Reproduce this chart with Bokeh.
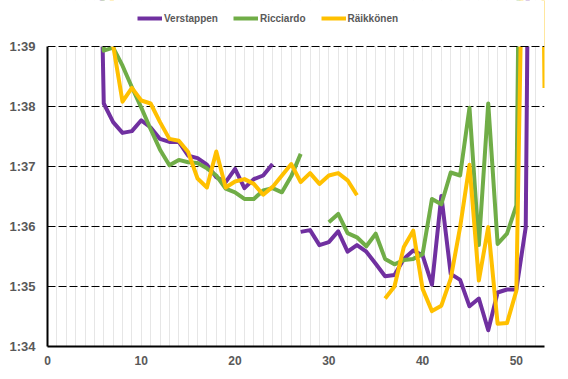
from bokeh.plotting import figure
from bokeh.models import Range1d, FixedTicker, Legend, LegendItem, BoxAnnotation, Span
from bokeh.embed import file_html
from bokeh.resources import INLINE

nan = float("nan")

laps = list(range(5, 54))

# lap times in seconds (94 = 1:34); values above 99 run off the top of the chart
verstappen = [106, 98.05, 97.74, 97.56, 97.59, 97.77, 97.65, 97.46, 97.41, 97.41,
              97.18, 97.14, 97.03, 96.82, 96.74, 96.96, 96.64, 96.79, 96.85, 97.04,
              nan, nan, 95.91, 95.94, 95.69, 95.74, 95.92, 95.58, 95.69, 95.58,
              95.38, 95.17, 95.19, 95.46, 95.60, 95.52, 95.03, 96.51, 95.21, 95.11,
              94.67, 94.80, 94.27, 94.90, 94.95, 94.95, 95.99, 114, nan]

ricciardo = [108, 98.93, 98.98, 98.68, 98.32, 97.98, 97.62, 97.28, 97.02, 97.11,
             97.07, 97.06, 96.97, 96.85, 96.63, 96.57, 96.46, 96.46, 96.60, 96.64,
             96.57, 96.84, 97.21, nan, nan, 96.07, 96.21, 95.89, 95.82, 95.67,
             95.88, 95.46, 95.37, 95.44, 95.46, 95.54, 96.46, 96.37, 96.90, 96.85,
             97.98, 95.69, 98.05, 95.71, 95.88, 96.35, 111, nan, nan]

raikkonen = [nan, 104, 99.02, 98.08, 98.31, 98.10, 98.05, 97.74, 97.46, 97.43,
             97.24, 96.80, 96.65, 97.25, 96.65, 96.75, 96.79, 96.71, 96.53, 96.66,
             96.85, 97.04, 96.74, 96.89, 96.71, 96.85, 96.89, 96.77, 96.52, nan,
             nan, 94.80, 95.00, 95.66, 95.93, 94.96, 94.59, 94.68, 95.13, 95.99,
             97.03, 95.10, 95.99, 94.38, 94.39, 94.93, 104, 112, 98.31]

names = ["Verstappen", "Ricciardo", "Räikkönen"]
colors = ["#7030A0", "#70AD47", "#FFC000"]

y_ticks = [94, 95, 96, 97, 98, 99]
y_labels = ["1:34", "1:35", "1:36", "1:37", "1:38", "1:39"]
x_ticks = [0, 10, 20, 30, 40, 50]
y_min, y_max = 94, 99
y_view_top = 99 + 46 / 60  # headroom above 1:39 for the legend row

p = figure(width=552, height=371, output_backend="svg", toolbar_location=None,
           x_range=Range1d(0, 53), y_range=Range1d(y_min, y_view_top),
           min_border_left=47, min_border_right=8, min_border_top=0,
           min_border_bottom=25)
p.outline_line_color = None
p.background_fill_color = "white"
p.border_fill_color = "white"

# grids
p.xgrid.ticker = FixedTicker(ticks=list(range(0, 54)))
p.xgrid.grid_line_color = "#e6e6e6"
p.xgrid.grid_line_width = 1
p.ygrid.ticker = FixedTicker(ticks=y_ticks[1:-1])
p.ygrid.grid_line_color = "black"
p.ygrid.grid_line_dash = "8 3"
p.ygrid.grid_line_width = 1

# axes
p.xaxis.ticker = FixedTicker(ticks=x_ticks)
p.yaxis.ticker = FixedTicker(ticks=y_ticks)
p.yaxis.bounds = (y_min, y_max)
p.yaxis.major_label_overrides = {t: l for t, l in zip(y_ticks, y_labels)}
for ax in (p.xaxis[0], p.yaxis[0]):
    ax.axis_line_color = "black"
    ax.axis_line_width = 2
    ax.major_tick_line_color = None
    ax.minor_tick_line_color = None
    ax.major_tick_out = 0
    ax.major_tick_in = 0
    ax.minor_tick_out = 0
    ax.minor_tick_in = 0
    ax.major_label_text_color = "#595959"
    ax.major_label_text_font = "Liberation Sans"
    ax.major_label_text_font_style = "bold"
p.xaxis.major_label_text_font_size = "12px"
p.yaxis.major_label_text_font_size = "13px"
p.xaxis.major_label_standoff = 9
p.yaxis.major_label_standoff = 12

items = []
for name, col, vals in zip(names, colors, [verstappen, ricciardo, raikkonen]):
    r = p.line(laps, vals, line_color=col, line_width=4, line_join="round")
    items.append(LegendItem(label=name, renderers=[r]))

# white band above 1:39 (plot area ends there)
p.add_layout(BoxAnnotation(bottom=y_max, top=y_view_top + 5, fill_color="white",
                           fill_alpha=1, line_color=None))
p.add_layout(Span(location=y_max, dimension="width", line_color="black",
                  line_dash="8 3", line_width=1))

legend = Legend(items=items, orientation="horizontal", location=(90, 321),
                glyph_width=25, glyph_height=14, label_height=14,
                label_standoff=2, spacing=15, padding=0, margin=0,
                label_text_font="Liberation Sans", label_text_font_style="bold",
                label_text_font_size="10px", label_text_color="#595959",
                background_fill_alpha=0, border_line_color=None)
p.add_layout(legend, "center")

open("out.html", "w").write(file_html(p, INLINE))
